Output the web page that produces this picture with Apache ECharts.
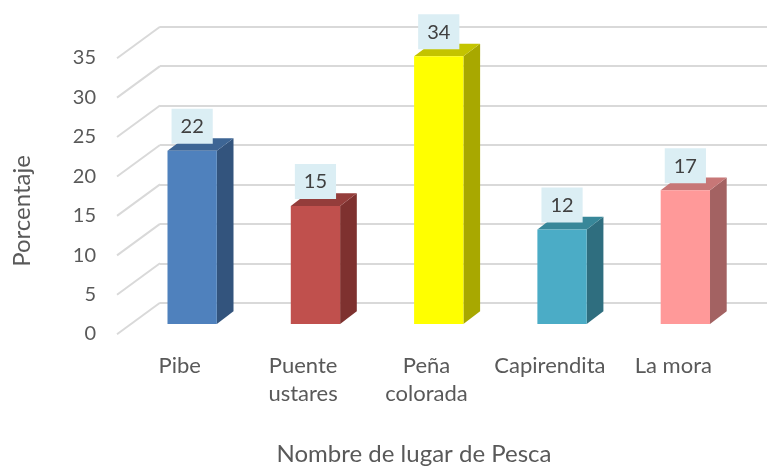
<!DOCTYPE html>
<html>
<head>
<meta charset="utf-8">
<script src="https://cdn.jsdelivr.net/npm/echarts@6/dist/echarts.min.js"></script>
<style>
  html, body { margin: 0; padding: 0; background: #fff; }
  #chart { width: 767px; height: 468px; }
</style>
</head>
<body>
<div id="chart"></div>
<script>
// datos
const categories = ['Pibe', 'Puente\nustares', 'Peña\ncolorada', 'Capirendita', 'La mora'];
const values = [22, 15, 34, 12, 17];
const yTicks = [0, 5, 10, 15, 20, 25, 30, 35];

// colores de las caras (frente, lado, arriba)
const frontColors = ['#4f81bd', '#c0504d', '#ffff00', '#4bacc6', '#ff9999'];
const sideColors = ['#33547d', '#7e312f', '#a8a800', '#2f6e7f', '#a36262'];
const topColors = ['#3d6594', '#943d3b', '#c4c400', '#388799', '#c77777'];

const FONT = 'Lato, "Open Sans", sans-serif';
const DEPTH_X = 16.7, DEPTH_Y = -12.7; // profundidad de las barras

const chart = echarts.init(document.getElementById('chart'), null, { renderer: 'canvas' });

const options = {
    animation: false,
    grid: [
        { left: 130.5, right: 20, top: 48.5, bottom: 144, outerBoundsMode: 'none' },   // plano frontal de barras
        { left: 160, right: 0, top: 26.7, bottom: 165.3, outerBoundsMode: 'none' },    // pared del fondo
        { left: 118, right: 32, top: 58, bottom: 134, outerBoundsMode: 'none' }         // borde frontal
    ],
    xAxis: [
        { gridIndex: 0, type: 'category', data: categories, show: false },
        { gridIndex: 1, type: 'value', min: 0, max: 1, show: false },
        {
            gridIndex: 2,
            type: 'category',
            data: categories,
            axisLine: { show: false },
            axisTick: { show: false },
            axisLabel: { margin: 18, fontSize: 22, lineHeight: 28, color: '#595959', fontFamily: FONT, interval: 0 },
            name: 'Nombre de lugar de Pesca',
            nameLocation: 'middle',
            nameGap: 108,
            nameTextStyle: { fontSize: 24, color: '#595959', fontFamily: FONT, padding: [0, 25, 0, 0] }
        }
    ],
    yAxis: [
        { gridIndex: 0, type: 'value', min: 0, max: 35, interval: 5, show: false },
        {
            gridIndex: 1,
            type: 'value',
            min: 0, max: 35, interval: 5,
            axisLine: { show: false },
            axisTick: { show: false },
            axisLabel: { show: false },
            splitLine: { lineStyle: { color: '#d9d9d9', width: 2 } }
        },
        {
            gridIndex: 2,
            type: 'value',
            min: 0, max: 35, interval: 5,
            axisLine: { show: false },
            axisTick: { show: false },
            splitLine: { show: false },
            axisLabel: { margin: 22, fontSize: 20, color: '#595959', fontFamily: FONT }
        }
    ],
    graphic: [
        {
            type: 'text',
            x: 22, y: 211,
            rotation: Math.PI / 2,
            style: {
                text: 'Porcentaje',
                font: '24px ' + FONT,
                fill: '#595959',
                align: 'center',
                verticalAlign: 'middle'
            }
        }
    ],
    series: [
        {   // lineas diagonales de la pared izquierda
            type: 'custom',
            xAxisIndex: 1,
            yAxisIndex: 1,
            silent: true,
            z: 1,
            data: yTicks.map(v => [0, v]),
            renderItem: (params, api) => {
                const p = api.coord([0, api.value(1)]);
                return {
                    type: 'line',
                    shape: { x1: p[0], y1: p[1], x2: p[0] - 43, y2: p[1] + 31.5 },
                    style: { stroke: '#d9d9d9', lineWidth: 2 }
                };
            }
        },
        {   // barras 3D
            type: 'custom',
            xAxisIndex: 0,
            yAxisIndex: 0,
            z: 5,
            data: values.map((v, i) => [i, v]),
            renderItem: (params, api) => {
                const i = params.dataIndex;
                const v = api.value(1);
                const top = api.coord([api.value(0), v]);
                const base = api.coord([api.value(0), 0]);
                const w = api.size([1, 0])[0] * 0.4;
                const x0 = top[0] - w / 2, x1 = top[0] + w / 2;
                const yt = top[1], yb = base[1];
                return {
                    type: 'group',
                    children: [
                        {
                            type: 'polygon',
                            shape: { points: [[x1, yt], [x1 + DEPTH_X, yt + DEPTH_Y], [x1 + DEPTH_X, yb + DEPTH_Y], [x1, yb]] },
                            style: { fill: sideColors[i] }
                        },
                        {
                            type: 'polygon',
                            shape: { points: [[x0, yt], [x0 + DEPTH_X, yt + DEPTH_Y], [x1 + DEPTH_X, yt + DEPTH_Y], [x1, yt]] },
                            style: { fill: topColors[i] }
                        },
                        {
                            type: 'rect',
                            shape: { x: x0, y: yt, width: w, height: yb - yt },
                            style: { fill: frontColors[i] }
                        },
                        {
                            type: 'text',
                            style: {
                                text: String(v),
                                x: top[0],
                                y: yt - 7,
                                align: 'center',
                                verticalAlign: 'bottom',
                                font: '20px ' + FONT,
                                fill: '#404040',
                                backgroundColor: '#dbeef4',
                                padding: [8, 9, 7, 9]
                            }
                        }
                    ]
                };
            }
        }
    ]
};

chart.setOption(options);
</script>
</body>
</html>
